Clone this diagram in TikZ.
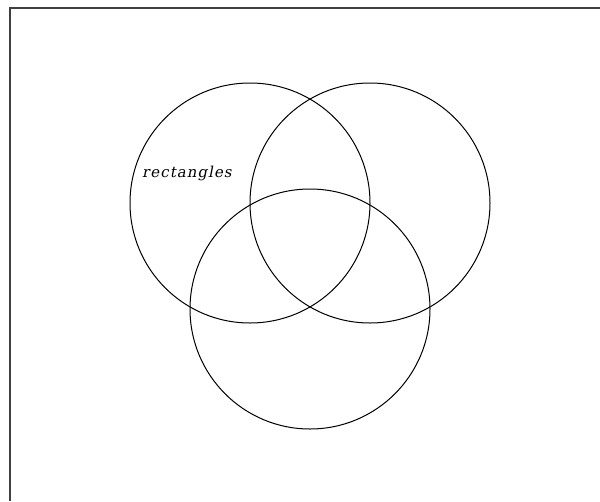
\documentclass[tikz,border=0pt]{standalone}
\usepackage{fontspec}
\newfontfamily\dvslant[FakeSlant=0.2,LetterSpace=7]{DejaVu Serif}
\begin{document}
\begin{tikzpicture}[x=1pt,y=-1pt,
  setc/.style={draw=black,line width=1pt},
  frameline/.style={draw=black!75,line width=2pt},
  lbl/.style={anchor=base west,inner sep=0pt,font=\dvslant\fontsize{15}{17}\selectfont}]
\useasboundingbox (0,0) rectangle (600,501);
\coordinate (ftl) at (9.5,7.5);
\coordinate (ftr) at (600,7.5);
\coordinate (fbl) at (9.5,501);
\draw[frameline] (ftr) -- (ftl) -- (fbl);
\node[setc,circle,minimum size=240pt,inner sep=0pt] (c1) at (250,203) {};
\node[setc,circle,minimum size=240pt,inner sep=0pt] (c2) at (370,203) {};
\node[setc,circle,minimum size=240pt,inner sep=0pt] (c3) at (310,309) {};
\node[lbl] (t1) at (142,177) {rectangles};
\end{tikzpicture}
\end{document}
